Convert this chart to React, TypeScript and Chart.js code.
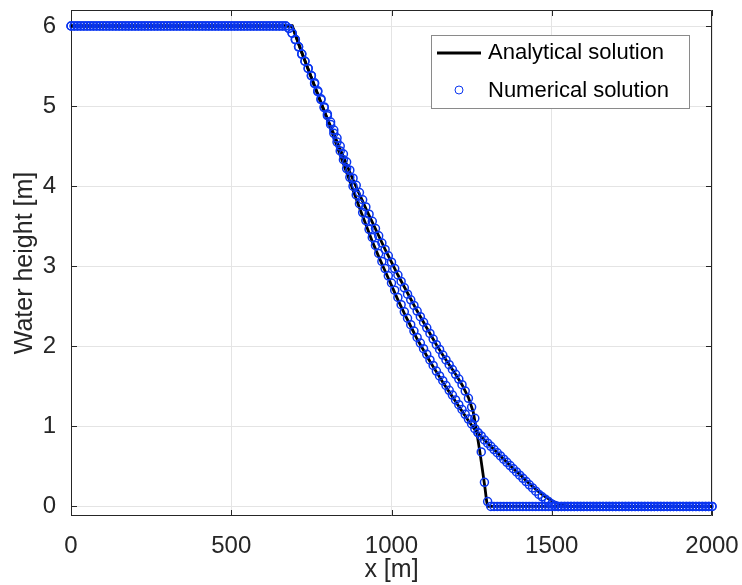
import React, { useEffect, useRef } from 'react';
import { Chart, registerables } from 'chart.js';
Chart.register(...registerables);

// Numerical grid (x in metres)
const numX = [
  0,10,20,30,40,50,60,70,80,90,100,110,120,130,140,150,160,170,180,190,
  200,210,220,230,240,250,260,270,280,290,300,310,320,330,340,350,360,370,380,390,
  400,410,420,430,440,450,460,470,480,490,500,510,520,530,540,550,560,570,580,590,
  600,610,620,630,640,650,660,670,680,690,700,710,720,730,740,750,760,770,780,790,
  800,810,820,830,840,850,860,870,880,890,900,910,920,930,940,950,960,970,980,990,
  1000,1010,1020,1030,1040,1050,1060,1070,1080,1090,1100,1110,1120,1130,1140,1150,1160,1170,1180,1190,
  1200,1210,1220,1230,1240,1250,1260,1270,1280,1290,1300,1310,1320,1330,1340,1350,1360,1370,1380,1390,
  1400,1410,1420,1430,1440,1450,1460,1470,1480,1490,1500,1510,1520,1530,1540,1550,1560,1570,1580,1590,
  1600,1610,1620,1630,1640,1650,1660,1670,1680,1690,1700,1710,1720,1730,1740,1750,1760,1770,1780,1790,
  1800,1810,1820,1830,1840,1850,1860,1870,1880,1890,1900,1910,1920,1930,1940,1950,1960,1970,1980,1990,
  2000,
];

// Numerical solution, smooth front (follows analytical curve A)
const numH1 = [
  6,6,6,6,6,6,6,6,6,6,6,6,6,6,6,6,6,6,6,6,
  6,6,6,6,6,6,6,6,6,6,6,6,6,6,6,6,6,6,6,6,
  6,6,6,6,6,6,6,6,6,6,6,6,6,6,6,6,6,6,6,6,
  6,6,6,6,6,6,6,6,5.97,5.91,5.83,5.74,5.65,5.56,5.47,5.38,5.28,5.18,5.08,4.98,
  4.88,4.77,4.66,4.55,4.44,4.33,4.22,4.11,4.00,3.89,3.78,3.67,3.57,3.46,3.36,3.26,3.16,3.06,2.97,2.88,
  2.79,2.70,2.61,2.52,2.43,2.35,2.27,2.19,2.11,2.04,1.97,1.90,1.83,1.76,1.69,1.63,1.57,1.51,1.45,1.39,
  1.33,1.27,1.21,1.15,1.09,1.03,0.97,0.92,0.88,0.83,0.79,0.75,0.71,0.67,0.63,0.59,0.55,0.51,0.47,0.43,
  0.39,0.35,0.31,0.27,0.23,0.19,0.15,0.12,0.09,0.06,0.03,0.01,0,0,0,0,0,0,0,0,
  0,0,0,0,0,0,0,0,0,0,0,0,0,0,0,0,0,0,0,0,
  0,0,0,0,0,0,0,0,0,0,0,0,0,0,0,0,0,0,0,0,
  0,
];

// Numerical solution, steep front (follows analytical curve B)
const numH2 = [
  6,6,6,6,6,6,6,6,6,6,6,6,6,6,6,6,6,6,6,6,
  6,6,6,6,6,6,6,6,6,6,6,6,6,6,6,6,6,6,6,6,
  6,6,6,6,6,6,6,6,6,6,6,6,6,6,6,6,6,6,6,6,
  6,6,6,6,6,6,6,6,5.97,5.91,5.83,5.74,5.65,5.56,5.47,5.38,5.29,5.19,5.09,4.99,
  4.90,4.80,4.70,4.60,4.50,4.40,4.30,4.20,4.10,4.01,3.92,3.83,3.74,3.65,3.56,3.47,3.38,3.29,3.21,3.13,
  3.05,2.97,2.89,2.81,2.73,2.65,2.58,2.51,2.44,2.37,2.30,2.23,2.16,2.09,2.02,1.96,1.89,1.83,1.77,1.71,
  1.65,1.59,1.52,1.44,1.35,1.24,1.10,0.92,0.68,0.30,0.06,0,0,0,0,0,0,0,0,0,
  0,0,0,0,0,0,0,0,0,0,0,0,0,0,0,0,0,0,0,0,
  0,0,0,0,0,0,0,0,0,0,0,0,0,0,0,0,0,0,0,0,
  0,0,0,0,0,0,0,0,0,0,0,0,0,0,0,0,0,0,0,0,
  0,
];

// Analytical solution A (smooth front)
const anaXA = [0,690,700,720,740,760,780,800,820,840,860,880,900,920,940,960,980,1000,1020,1040,1060,1080,1100,1120,1140,1160,1180,1200,1220,1240,1260,1280,1300,1320,1340,1360,1380,1400,1420,1440,1460,1480,1500,1520,1540,1560,2000];
const anaHA = [6,6,5.89,5.67,5.46,5.25,5.04,4.83,4.61,4.39,4.17,3.95,3.73,3.52,3.31,3.12,2.94,2.76,2.58,2.41,2.25,2.09,1.95,1.81,1.68,1.55,1.43,1.31,1.19,1.07,0.96,0.87,0.79,0.71,0.63,0.55,0.47,0.40,0.32,0.25,0.18,0.12,0.07,0.035,0.01,0,0];

// Analytical solution B (steep front)
const anaXB = [0,690,700,720,740,760,780,800,820,840,860,880,900,920,940,960,980,1000,1020,1040,1060,1080,1100,1120,1140,1160,1180,1200,1220,1240,1255,1265,1275,1285,1292,1297,1300,2000];
const anaHB = [6,6,5.89,5.67,5.46,5.25,5.04,4.84,4.65,4.46,4.27,4.08,3.90,3.72,3.55,3.38,3.21,3.05,2.89,2.74,2.59,2.44,2.30,2.16,2.02,1.89,1.77,1.65,1.52,1.36,1.18,0.95,0.70,0.42,0.22,0.06,0,0];

const xTicks = [0, 500, 1000, 1500, 2000];
const yTicks = [0, 1, 2, 3, 4, 5, 6];
const legendLabels = ['Analytical solution', 'Numerical solution'];
const xTitle = 'x [m]';
const yTitle = 'Water height [m]';

const FONT = '"Liberation Sans", Arial, Helvetica, sans-serif';
const AXIS_COLOR = '#262626';
const BLUE = '#0a36f0';

const toPts = (xs: number[], ys: number[]) => xs.map((x, i) => ({ x, y: ys[i] }));

const framePlugin = {
  id: 'frame',
  beforeDatasetsDraw(chart: any) {
    const { ctx, chartArea: a, scales } = chart;
    ctx.save();
    ctx.strokeStyle = AXIS_COLOR;
    ctx.lineWidth = 1;
    ctx.beginPath();
    ctx.rect(a.left + 0.5, a.top + 0.5, a.right - a.left - 1, a.bottom - a.top - 1);
    ctx.stroke();
    const tl = 6;
    ctx.beginPath();
    xTicks.forEach((v) => {
      const px = Math.round(scales.x.getPixelForValue(v)) + 0.5;
      ctx.moveTo(px, a.bottom);
      ctx.lineTo(px, a.bottom - tl);
      ctx.moveTo(px, a.top);
      ctx.lineTo(px, a.top + tl);
    });
    yTicks.forEach((v) => {
      const py = Math.round(scales.y.getPixelForValue(v)) + 0.5;
      ctx.moveTo(a.left, py);
      ctx.lineTo(a.left + tl, py);
      ctx.moveTo(a.right, py);
      ctx.lineTo(a.right - tl, py);
    });
    ctx.stroke();
    ctx.restore();
  },
};

const legendPlugin = {
  id: 'boxLegend',
  afterDraw(chart: any) {
    const { ctx } = chart;
    ctx.save();
    const bx = 431, by = 35, bw = 258, bh = 73;
    ctx.fillStyle = '#ffffff';
    ctx.fillRect(bx, by, bw, bh);
    ctx.strokeStyle = '#8a8a8a';
    ctx.lineWidth = 1;
    ctx.strokeRect(bx + 0.5, by + 0.5, bw, bh);
    ctx.strokeStyle = '#000';
    ctx.lineWidth = 3;
    ctx.beginPath();
    ctx.moveTo(437, 53);
    ctx.lineTo(481, 53);
    ctx.stroke();
    ctx.strokeStyle = BLUE;
    ctx.lineWidth = 1;
    ctx.beginPath();
    ctx.arc(459, 90, 4, 0, Math.PI * 2);
    ctx.stroke();
    ctx.fillStyle = '#000';
    ctx.font = `22px ${FONT}`;
    ctx.textBaseline = 'middle';
    ctx.textAlign = 'left';
    ctx.fillText(legendLabels[0], 488, 53);
    ctx.fillText(legendLabels[1], 488, 91);
    ctx.restore();
  },
};

export default function App() {
  const ref = useRef<HTMLCanvasElement>(null);
  useEffect(() => {
    const canvas = ref.current!;
    const lineDs = (xs: number[], ys: number[]) => ({
      type: 'line' as const,
      label: legendLabels[0],
      data: toPts(xs, ys),
      borderColor: '#000',
      borderWidth: 2.8,
      pointRadius: 0,
      tension: 0,
      fill: false,
      order: 2,
    });
    const circDs = (ys: number[]) => ({
      type: 'scatter' as const,
      label: legendLabels[1],
      data: toPts(numX, ys),
      showLine: false,
      pointStyle: 'circle',
      pointRadius: 4,
      pointBorderWidth: 1.5,
      pointBorderColor: BLUE,
      pointBackgroundColor: 'rgba(0,0,0,0)',
      clip: false,
      order: 1,
    });
    const chart = new Chart(canvas, {
      type: 'scatter',
      data: {
        datasets: [
          lineDs(anaXA, anaHA),
          lineDs(anaXB, anaHB),
          circDs(numH1),
          circDs(numH2),
        ] as any,
      },
      options: {
        animation: false,
        responsive: false,
        devicePixelRatio: 1,
        layout: { padding: { left: 0, right: 30, top: 10, bottom: 0 } },
        plugins: {
          legend: { display: false },
          tooltip: { enabled: false },
        },
        scales: {
          x: {
            type: 'linear',
            min: 0,
            max: 2000,
            afterBuildTicks: (s: any) => { s.ticks = xTicks.map((v) => ({ value: v })); },
            afterFit: (s: any) => { s.height = 69; s.paddingLeft = 0; s.paddingRight = 0; },
            grid: { color: '#e4e4e4', drawTicks: false, lineWidth: 1 },
            border: { display: false },
            ticks: {
              color: AXIS_COLOR,
              font: { family: FONT, size: 24 },
              padding: 16,
              maxRotation: 0,
              autoSkip: false,
              callback: (v: any) => String(v),
            },
            title: {
              display: true,
              text: xTitle,
              color: AXIS_COLOR,
              font: { family: FONT, size: 25 },
              padding: { top: 0, bottom: 0 },
            },
          },
          y: {
            type: 'linear',
            min: -0.12,
            max: 6.2,
            afterBuildTicks: (s: any) => { s.ticks = yTicks.map((v) => ({ value: v })); },
            afterFit: (s: any) => { s.width = 71; s.paddingTop = 0; s.paddingBottom = 0; },
            grid: { color: '#e4e4e4', drawTicks: false, lineWidth: 1 },
            border: { display: false },
            ticks: {
              color: AXIS_COLOR,
              font: { family: FONT, size: 24 },
              padding: 15,
              autoSkip: false,
              callback: (v: any) => String(v),
            },
            title: {
              display: true,
              text: yTitle,
              color: AXIS_COLOR,
              font: { family: FONT, size: 25 },
              padding: { top: 10, bottom: 0 },
            },
          },
        },
      },
      plugins: [framePlugin, legendPlugin],
    });
    return () => chart.destroy();
  }, []);
  return (
    <div style={{ position: 'fixed', left: 0, top: 0, width: 742, height: 585, background: '#fff' }}>
      <canvas ref={ref} width={742} height={585} style={{ display: 'block', width: 742, height: 585 }} />
    </div>
  );
}
